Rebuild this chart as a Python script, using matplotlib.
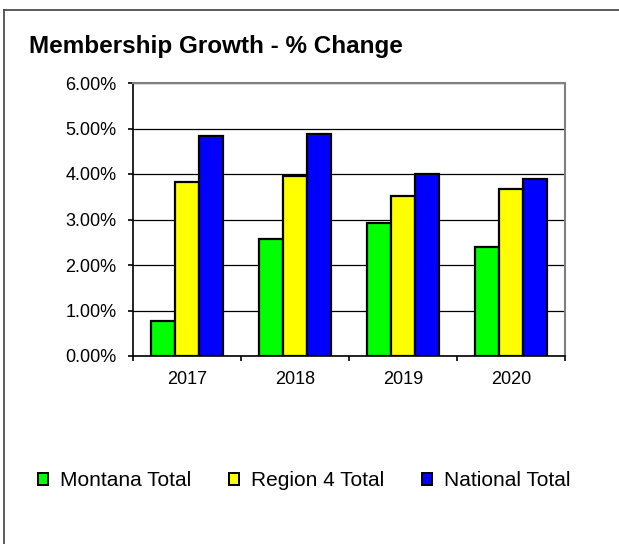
import numpy as np
import matplotlib.pyplot as plt
from matplotlib.lines import Line2D
from matplotlib.patches import Patch

plt.rcParams['font.family'] = ['Liberation Sans', 'DejaVu Sans']

years = ['2017', '2018', '2019', '2020']
montana = [0.77, 2.57, 2.92, 2.40]
region4 = [3.82, 3.96, 3.52, 3.66]
national = [4.84, 4.88, 4.00, 3.90]
series_names = ['Montana Total', 'Region 4 Total', 'National Total']
colors = ['#00FF00', '#FFFF00', '#0000FF']

W, H = 619, 544
fig = plt.figure(figsize=(W / 100, H / 100), dpi=100)
ax = fig.add_axes([133 / W, 1 - 356 / H, (565 - 133) / W, (356 - 83) / H])

# outer frame (only top and left edges fall inside the canvas)
fig.add_artist(Line2D([4 / W, 4 / W], [0, 1 - 10 / H], color='#404040', lw=1.2, transform=fig.transFigure))
fig.add_artist(Line2D([4 / W, 1], [1 - 10 / H, 1 - 10 / H], color='#404040', lw=1.2, transform=fig.transFigure))

x = np.arange(len(years)) + 0.5
bw = 0.222
for i, (vals, c) in enumerate(zip([montana, region4, national], colors)):
    ax.bar(x + (i - 1) * bw, vals, width=bw, color=c, edgecolor='black', linewidth=1.6, zorder=3)

ax.set_xlim(0, 4)
ax.set_ylim(0, 6)
ax.set_yticks(np.arange(0, 7, 1))
ax.set_yticklabels([f'{v:.2f}%' for v in np.arange(0, 7, 1)])
ax.yaxis.grid(True, color='black', linewidth=0.9, zorder=0)

ax.set_xticks(x)
ax.set_xticklabels(years)
ax.set_xticks(np.arange(0, 5), minor=True)
ax.tick_params(axis='x', which='major', length=0, pad=11, labelsize=13)
ax.tick_params(axis='x', which='minor', length=3.6, width=1.2, direction='out')
ax.tick_params(axis='y', length=3.8, width=1.2, direction='out', pad=8, labelsize=13)

for s in ['top', 'right']:
    ax.spines[s].set_color('#808080')
    ax.spines[s].set_linewidth(1.5)
for s in ['left', 'bottom']:
    ax.spines[s].set_color('black')
    ax.spines[s].set_linewidth(1.2)

fig.text(29 / W, 1 - 47 / H, 'Membership Growth - % Change', fontsize=17.5,
         fontweight='bold', va='center', ha='left')

handles = [Patch(facecolor=c, edgecolor='black', linewidth=1.4) for c in colors]
fig.legend(handles, series_names, loc='center left', bbox_to_anchor=(38 / W, 1 - 481 / H),
           ncol=3, frameon=False, fontsize=15, handlelength=0.48, handleheight=0.48,
           handletextpad=0.58, columnspacing=1.8, borderaxespad=0, borderpad=0)

fig.savefig('out.png', dpi=100)
